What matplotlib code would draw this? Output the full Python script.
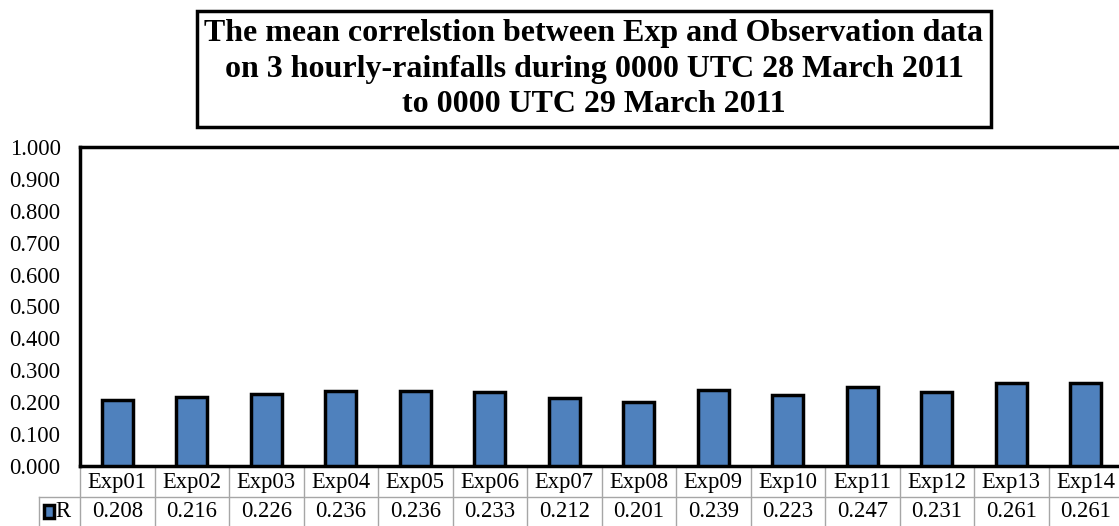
import numpy as np
import matplotlib
matplotlib.use('Agg')
from matplotlib import pyplot as plt
from matplotlib.patches import Rectangle

# chart data
experiments = ['Exp01', 'Exp02', 'Exp03', 'Exp04', 'Exp05', 'Exp06', 'Exp07',
               'Exp08', 'Exp09', 'Exp10', 'Exp11', 'Exp12', 'Exp13', 'Exp14']
r_values = [0.208, 0.216, 0.226, 0.236, 0.236, 0.233, 0.212,
            0.201, 0.239, 0.223, 0.247, 0.231, 0.261, 0.261]
series_name = 'R'
y_ticks = [0.0, 0.1, 0.2, 0.3, 0.4, 0.5, 0.6, 0.7, 0.8, 0.9, 1.0]

plt.rcParams['font.family'] = ['Liberation Serif', 'DejaVu Serif']
bar_color = '#4F81BD'
grid_color = '#A6A6A6'
fs = 16.3

fig = plt.figure(figsize=(11.19, 5.26), dpi=100)
W, H = 1119.0, 526.0
# axes in pixel terms: left 80, right 1123, top 147, bottom 466
ax = fig.add_axes([80 / W, 1 - 466 / H, 1043 / W, (466 - 147) / H])

x = np.arange(len(experiments))
ax.bar(x, r_values, width=0.42, color=bar_color, edgecolor='black', linewidth=2.5, zorder=3)

ax.set_xlim(-0.5, len(experiments) - 0.5)
ax.set_ylim(0, 1.0)
ax.set_yticks(y_ticks)
ax.set_yticklabels(['%.3f' % t for t in y_ticks], fontsize=fs)
ax.tick_params(axis='y', length=0, pad=14)
ax.set_xticks([])
for side in ['left', 'top', 'bottom']:
    ax.spines[side].set_linewidth(2.5)
    ax.spines[side].set_color('black')
ax.spines['right'].set_visible(False)

# data table under the axis (drawn in data-x / axes-y coords)
trans = ax.get_xaxis_transform()
axh = 466 - 147
row_h = 30.5 / axh
y_r1 = -row_h          # bottom of header row
y_r2 = -2 * row_h      # bottom of value row
label_left = (39 - 80) / (1043 / len(experiments)) - 0.5

for i in range(len(experiments) + 1):
    ax.plot([i - 0.5, i - 0.5], [0, y_r2 - 0.05], transform=trans, color=grid_color,
            linewidth=1.0, clip_on=False)
ax.plot([label_left, label_left], [y_r1, y_r2 - 0.05], transform=trans, color=grid_color,
        linewidth=1.0, clip_on=False)
ax.plot([label_left, len(experiments)], [y_r1, y_r1], transform=trans, color=grid_color,
        linewidth=1.0, clip_on=False)

for i, (name, val) in enumerate(zip(experiments, r_values)):
    ax.text(i, y_r1 / 2 - 0.005, name, transform=trans, ha='center', va='center', fontsize=fs)
    ax.text(i, (y_r1 + y_r2) / 2, '%.3f' % val, transform=trans, ha='center', va='center',
            fontsize=fs)

# legend key in the row label cell
key = Rectangle((label_left + 0.07, (y_r1 + y_r2) / 2 - 0.02), 0.13, 0.04, transform=trans,
                facecolor=bar_color, edgecolor='black', linewidth=2.5, clip_on=False)
ax.add_patch(key)
ax.text(label_left + 0.22, (y_r1 + y_r2) / 2, series_name, transform=trans,
        ha='left', va='center', fontsize=fs)

# boxed title
title = ('The mean correlstion between Exp and Observation data\n'
         'on 3 hourly-rainfalls during 0000 UTC 28 March 2011\n'
         'to 0000 UTC 29 March 2011')
fig.text(594 / W, 1 - 69 / H, title, ha='center', va='center', fontsize=23,
         fontweight='bold', linespacing=1.3,
         bbox=dict(boxstyle='square,pad=0.25', facecolor='white', edgecolor='black', linewidth=2.5))

fig.savefig('out.png', dpi=100)
